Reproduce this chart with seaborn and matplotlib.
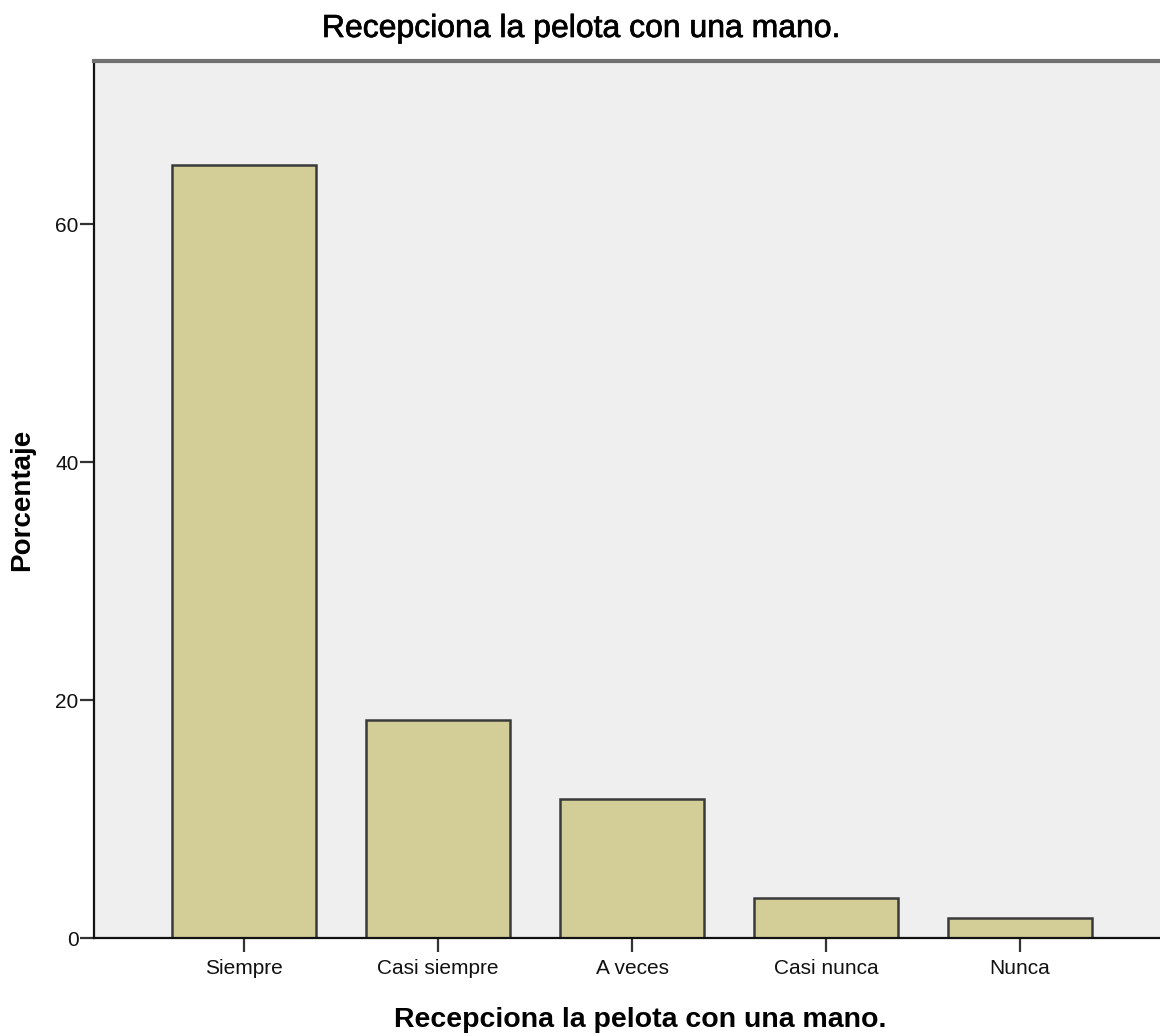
import matplotlib
matplotlib.use("Agg")
import matplotlib.pyplot as plt
import matplotlib.patheffects as pe
import seaborn as sns
import pandas as pd

categorias = ["Siempre", "Casi siempre", "A veces", "Casi nunca", "Nunca"]
porcentajes = [65.0, 18.33, 11.67, 3.33, 1.67]
yticks = [0, 20, 40, 60]
titulo = "Recepciona la pelota con una mano."

df = pd.DataFrame({"cat": categorias, "pct": porcentajes})

sns.set_theme(style="white")
plt.rcParams["font.family"] = ["Liberation Sans", "DejaVu Sans"]
plt.rcParams["text.color"] = "black"

fig = plt.figure(figsize=(11.6, 10.36), dpi=100)
ax = fig.add_axes([94 / 1160, 1 - 938 / 1036, (1170 - 94) / 1160, 877 / 1036])
ax.set_facecolor("#efefef")

sns.barplot(data=df, x="cat", y="pct", color="#d3ce97", saturation=1,
            width=0.742, edgecolor="#3a3a3a", linewidth=1.8, ax=ax)

ax.set_xlim(-0.773, 4.773)
ax.set_ylim(0, 73.7)
ax.set_yticks(yticks)
ax.tick_params(axis="both", direction="out", length=10, width=1.6, color="#333333",
               labelsize=15, labelcolor="#111111", bottom=True, left=True)
ax.tick_params(axis="y", pad=1)
ax.tick_params(axis="x", pad=5)

for s in ["left", "bottom"]:
    ax.spines[s].set_color("#111111")
    ax.spines[s].set_linewidth(1.6)
ax.spines["top"].set_color("#707070")
ax.spines["top"].set_linewidth(3)
ax.spines["right"].set_visible(False)

ax.set_xlabel("")
ax.set_ylabel("")
fig.text(640 / 1160, 1 - 1027 / 1036, titulo, ha="center", va="baseline",
         fontsize=20.5, fontweight="bold")
fig.text(22 / 1160, 1 - 500 / 1036, "Porcentaje", ha="center", va="center",
         rotation=90, fontsize=20, fontweight="bold")
# titulo de arriba: peso intermedio con un trazo fino
fig.text(582 / 1160, 1 - 37 / 1036, titulo, ha="center", va="baseline", fontsize=23,
         path_effects=[pe.withStroke(linewidth=0.5, foreground="black")])

fig.savefig("out.png", dpi=100)
